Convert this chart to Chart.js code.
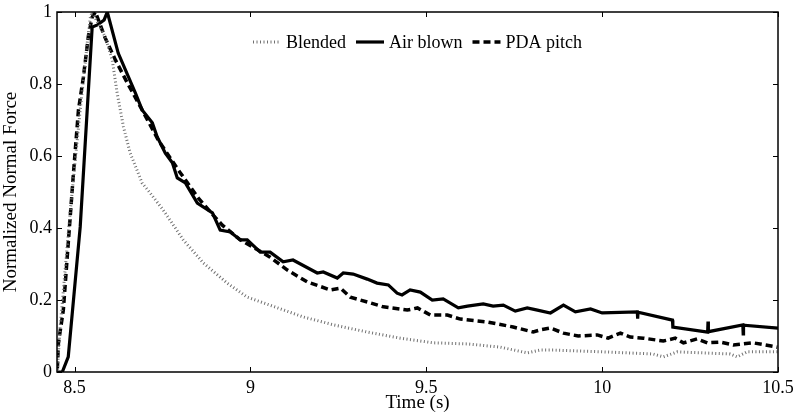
<!DOCTYPE html>
<html>
<head>
<meta charset="utf-8">
<script src="https://cdn.jsdelivr.net/npm/chart.js@4.4.1/dist/chart.umd.min.js"></script>
<style>
  html, body { margin: 0; padding: 0; background: #fff; }
  #wrap { width: 798px; height: 416px; }
</style>
</head>
<body>
<div id="wrap"><canvas id="chart"></canvas></div>
<script>
// Tick values
const xTicks = [8.5, 9, 9.5, 10, 10.5];
const yTicks = [0, 0.2, 0.4, 0.6, 0.8, 1];

// Blended (dotted)
const blendedT = [8.451, 8.459, 8.488, 8.516, 8.536, 8.545, 8.550, 8.587, 8.607, 8.621, 8.639, 8.658, 8.692, 8.715,
  8.752, 8.809, 8.866, 8.934, 8.991, 9.150, 9.236, 9.332, 9.426, 9.520, 9.617, 9.711, 9.787, 9.824, 9.861,
  10.003, 10.145, 10.174, 10.214, 10.364, 10.384, 10.412, 10.5];
const blendedV = [0.005, 0.125, 0.45, 0.728, 0.914, 0.986, 1.0, 0.931, 0.867, 0.775, 0.681, 0.608, 0.525, 0.497,
  0.45, 0.367, 0.303, 0.247, 0.208, 0.153, 0.131, 0.111, 0.094, 0.081, 0.078, 0.069, 0.053, 0.061, 0.061,
  0.056, 0.05, 0.042, 0.056, 0.05, 0.042, 0.056, 0.056];

// Air blown (solid)
const airT = [8.452, 8.465, 8.482, 8.516, 8.550, 8.565, 8.584, 8.593, 8.624, 8.673, 8.692, 8.721, 8.735, 8.758,
  8.778, 8.792, 8.815, 8.849, 8.892, 8.914, 8.943, 8.971, 8.991, 9.028, 9.056, 9.093, 9.121, 9.190, 9.207,
  9.247, 9.264, 9.292, 9.332, 9.360, 9.392, 9.417, 9.431, 9.454, 9.483, 9.517, 9.548, 9.591, 9.617, 9.662,
  9.690, 9.719, 9.753, 9.787, 9.816, 9.853, 9.890, 9.924, 9.967, 10.0, 10.1, 10.101, 10.102, 10.2, 10.201,
  10.3, 10.301, 10.302, 10.4, 10.401, 10.402, 10.5];
const airV = [0.0, 0.0, 0.042, 0.403, 0.958, 0.964, 0.978, 1.0, 0.886, 0.775, 0.728, 0.692, 0.653, 0.608,
  0.581, 0.539, 0.525, 0.469, 0.442, 0.394, 0.389, 0.367, 0.367, 0.333, 0.333, 0.306, 0.311, 0.275, 0.278,
  0.261, 0.275, 0.272, 0.258, 0.247, 0.242, 0.219, 0.214, 0.228, 0.222, 0.200, 0.203, 0.178, 0.183, 0.189,
  0.183, 0.186, 0.169, 0.178, 0.172, 0.164, 0.186, 0.167, 0.175, 0.164, 0.167, 0.148, 0.166, 0.144, 0.125,
  0.111, 0.140, 0.112, 0.131, 0.106, 0.130, 0.122];

// PDA pitch (dashed)
const pdaT = [8.451, 8.454, 8.468, 8.482, 8.496, 8.511, 8.525, 8.539, 8.550, 8.559, 8.587, 8.616, 8.650, 8.692,
  8.738, 8.795, 8.835, 8.852, 8.894, 8.920, 8.971, 9.056, 9.105, 9.162, 9.227, 9.256, 9.284, 9.341, 9.378,
  9.446, 9.475, 9.512, 9.560, 9.597, 9.673, 9.747, 9.804, 9.824, 9.853, 9.890, 9.932, 9.986, 10.017, 10.052,
  10.080, 10.117, 10.174, 10.208, 10.231, 10.270, 10.299, 10.336, 10.373, 10.430, 10.498];
const pdaV = [0.01, 0.08, 0.172, 0.358, 0.542, 0.728, 0.819, 0.931, 0.986, 1.0, 0.928, 0.867, 0.803, 0.728,
  0.644, 0.561, 0.506, 0.483, 0.436, 0.408, 0.367, 0.319, 0.283, 0.250, 0.228, 0.233, 0.208, 0.192, 0.181,
  0.172, 0.178, 0.158, 0.158, 0.147, 0.139, 0.125, 0.111, 0.117, 0.122, 0.108, 0.1, 0.103, 0.094, 0.108,
  0.097, 0.094, 0.086, 0.094, 0.081, 0.092, 0.081, 0.083, 0.075, 0.081, 0.069];

const toPoints = (ts, vs) => ts.map((t, i) => ({ x: t, y: vs[i] }));

Chart.defaults.font.family = "'Liberation Serif', 'Times New Roman', serif";
Chart.defaults.font.size = 18;
Chart.defaults.color = '#000';

// Box around the plot, inward tick marks and an in-plot legend
const framePlugin = {
  id: 'frame',
  afterDraw(chart) {
    const { ctx, chartArea: a, scales } = chart;
    ctx.save();
    ctx.strokeStyle = '#000';
    ctx.lineWidth = 1.5;
    ctx.setLineDash([]);
    ctx.strokeRect(a.left, a.top, a.right - a.left, a.bottom - a.top);

    ctx.lineWidth = 1;
    const tl = 5;
    ctx.beginPath();
    xTicks.forEach(v => {
      const px = Math.round(scales.x.getPixelForValue(v)) + 0.5;
      ctx.moveTo(px, a.bottom); ctx.lineTo(px, a.bottom - tl);
      ctx.moveTo(px, a.top); ctx.lineTo(px, a.top + tl);
    });
    yTicks.forEach(v => {
      const py = Math.round(scales.y.getPixelForValue(v)) + 0.5;
      ctx.moveTo(a.left, py); ctx.lineTo(a.left + tl, py);
      ctx.moveTo(a.right, py); ctx.lineTo(a.right - tl, py);
    });
    ctx.stroke();

    // legend
    const lineLen = 28, textGap = 5, itemGap = 10;
    ctx.font = "18px 'Liberation Serif', 'Times New Roman', serif";
    ctx.textBaseline = 'middle';
    ctx.fillStyle = '#000';
    const items = chart.data.datasets.map(ds => ({ ds, w: ctx.measureText(ds.label).width }));
    const total = items.reduce((s, it) => s + lineLen + textGap + it.w, 0) + itemGap * (items.length - 1);
    let x = (a.left + a.right) / 2 - total / 2;
    const y = 42;
    items.forEach(it => {
      ctx.beginPath();
      ctx.strokeStyle = it.ds.borderColor;
      ctx.lineWidth = it.ds.borderWidth;
      ctx.setLineDash(it.ds.borderDash || []);
      ctx.moveTo(x, y); ctx.lineTo(x + lineLen, y);
      ctx.stroke();
      ctx.setLineDash([]);
      x += lineLen + textGap;
      ctx.fillText(it.ds.label, x, y + 1);
      x += it.w + itemGap;
    });
    ctx.restore();
  }
};

new Chart(document.getElementById('chart'), {
  type: 'scatter',
  data: {
    datasets: [
      {
        label: 'Blended',
        data: toPoints(blendedT, blendedV),
        showLine: true,
        borderColor: '#707070',
        borderWidth: 3,
        borderDash: [1, 2.5],
        pointRadius: 0,
        tension: 0
      },
      {
        label: 'Air blown',
        data: toPoints(airT, airV),
        showLine: true,
        borderColor: '#000',
        borderWidth: 3.2,
        pointRadius: 0,
        tension: 0
      },
      {
        label: 'PDA pitch',
        data: toPoints(pdaT, pdaV),
        showLine: true,
        borderColor: '#000',
        borderWidth: 3.5,
        borderDash: [7, 4],
        pointRadius: 0,
        tension: 0
      }
    ]
  },
  options: {
    responsive: true,
    maintainAspectRatio: false,
    animation: false,
    layout: { padding: { top: 12, right: 20, left: 0, bottom: 0 } },
    plugins: {
      legend: { display: false },
      tooltip: { enabled: false }
    },
    scales: {
      x: {
        type: 'linear',
        min: 8.45,
        max: 10.5,
        afterBuildTicks: s => { s.ticks = xTicks.map(v => ({ value: v })); },
        afterFit: s => { s.height = 44; s.paddingLeft = 0; s.paddingRight = 0; },
        grid: { display: false, drawTicks: false },
        border: { display: false },
        ticks: { padding: 5, maxRotation: 0, font: { size: 18 }, callback: v => String(v) },
        title: { display: true, text: 'Time (s)', padding: { top: 0, bottom: 2 }, font: { size: 19 } }
      },
      y: {
        type: 'linear',
        min: 0,
        max: 1,
        afterBuildTicks: s => { s.ticks = yTicks.map(v => ({ value: v })); },
        afterFit: s => { s.width = 57; s.paddingTop = 0; s.paddingBottom = 0; },
        grid: { display: false, drawTicks: false },
        border: { display: false },
        ticks: { padding: 5, font: { size: 18 }, callback: v => String(v) },
        title: { display: true, text: 'Normalized Normal Force', padding: { top: 0, bottom: 2 }, font: { size: 19 } }
      }
    }
  },
  plugins: [framePlugin]
});
</script>
</body>
</html>
